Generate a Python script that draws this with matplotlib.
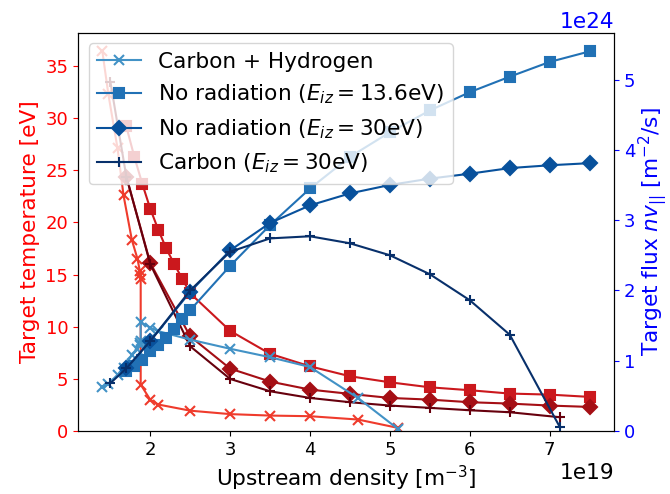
import numpy as np
import matplotlib
matplotlib.use("Agg")
import matplotlib.pyplot as plt

plt.rcParams["font.size"] = 15.6
plt.rcParams["xtick.labelsize"] = 13
plt.rcParams["ytick.labelsize"] = 13

# 上游密度 [1e19 m^-3]，靶板温度 [eV]，靶板粒子通量 [1e24 m^-2/s]
# Carbon + Hydrogen
n_ch = [1.40, 1.475, 1.59, 1.665, 1.77, 1.84, 1.87, 1.875, 1.88, 1.88,
        2.0, 2.1, 2.5, 3.0, 3.5, 4.0, 4.6, 5.1]
T_ch = [36.4, 32.3, 27.1, 22.6, 18.3, 16.5, 15.3, 15.0, 14.6, 4.45,
        3.0, 2.54, 1.95, 1.62, 1.48, 1.42, 1.10, 0.30]
F_ch = [0.62, 0.67, 0.80, 0.90, 1.08, 1.17, 1.22, 1.25, 1.28, 1.55,
        1.47, 1.42, 1.30, 1.17, 1.05, 0.91, 0.47, 0.03]

# No radiation, E_iz = 13.6 eV
n_nr136 = [1.7, 1.8, 1.9, 2.0, 2.1, 2.2, 2.3, 2.4, 2.5, 3.0, 3.5, 4.0,
           4.5, 5.0, 5.5, 6.0, 6.5, 7.0, 7.5]
T_nr136 = [29.2, 26.3, 23.7, 21.3, 19.3, 17.5, 16.0, 14.6, 13.2, 9.6, 7.4,
           6.2, 5.25, 4.67, 4.19, 3.91, 3.59, 3.49, 3.27]
F_nr136 = [0.85, 0.92, 1.01, 1.14, 1.22, 1.33, 1.45, 1.59, 1.72, 2.35,
           2.93, 3.45, 3.90, 4.25, 4.56, 4.82, 5.04, 5.25, 5.40]

# No radiation, E_iz = 30 eV
n_nr30 = [1.7, 2.0, 2.5, 3.0, 3.5, 4.0, 4.5, 5.0, 5.5, 6.0, 6.5, 7.0, 7.5]
T_nr30 = [24.4, 16.1, 9.07, 5.98, 4.74, 3.97, 3.56, 3.17, 3.01, 2.76, 2.63,
          2.44, 2.31]
F_nr30 = [0.89, 1.28, 1.98, 2.57, 2.96, 3.21, 3.38, 3.50, 3.59, 3.66, 3.74,
          3.78, 3.81]

# Carbon, E_iz = 30 eV
n_c30 = [1.5, 1.7, 2.0, 2.5, 3.0, 3.5, 4.0, 4.5, 5.0, 5.5, 6.0, 6.5, 7.13]
T_c30 = [33.5, 24.4, 16.0, 8.12, 4.99, 3.81, 3.17, 2.76, 2.44, 2.22, 1.99,
         1.80, 1.32]
F_c30 = [0.68, 0.89, 1.28, 2.0, 2.55, 2.74, 2.77, 2.67, 2.50, 2.23, 1.86,
         1.37, 0.05]

labels = ["Carbon + Hydrogen",
          r"No radiation ($E_{iz}=13.6$eV)",
          r"No radiation ($E_{iz}=30$eV)",
          r"Carbon ($E_{iz}=30$eV)"]
markers = ["x", "s", "D", "+"]
reds = ["#ef3b2c", "#cb181d", "#a50f15", "#67000d"]
blues = ["#4292c6", "#2171b5", "#08519c", "#08306b"]

ns = [n_ch, n_nr136, n_nr30, n_c30]
Ts = [T_ch, T_nr136, T_nr30, T_c30]
Fs = [F_ch, F_nr136, F_nr30, F_c30]

fig, ax = plt.subplots(figsize=(6.7, 4.94), dpi=100)
ax2 = ax.twinx()

for n, T, F, m, cr, cb, lab in zip(ns, Ts, Fs, markers, reds, blues, labels):
    ax.plot(np.array(n) * 1e19, T, marker=m, color=cr, lw=1.5, ms=7,
            mew=1.5)
    ax2.plot(np.array(n) * 1e19, np.array(F) * 1e24, marker=m, color=cb,
             lw=1.5, ms=7, mew=1.5, label=lab)

ax.set_ylim(bottom=0)
ax2.set_ylim(bottom=0)

ax.set_xlabel(r"Upstream density [m$^{-3}$]")
ax.set_ylabel("Target temperature [eV]", color="red")
ax2.set_ylabel(r"Target flux $nv_{||}$ [m$^{-2}$/s]", color="blue",
               labelpad=1)
ax.tick_params(axis="y", colors="red")
ax2.tick_params(axis="y", colors="blue")
ax.xaxis.get_offset_text().set_fontsize(15.6)
ax2.yaxis.get_offset_text().set_fontsize(15.6)
ax2.yaxis.get_offset_text().set_color("blue")

ax2.legend(loc="upper left")

fig.subplots_adjust(left=0.1164, right=0.9164, top=0.9342, bottom=0.1275)
fig.savefig("out.png")
